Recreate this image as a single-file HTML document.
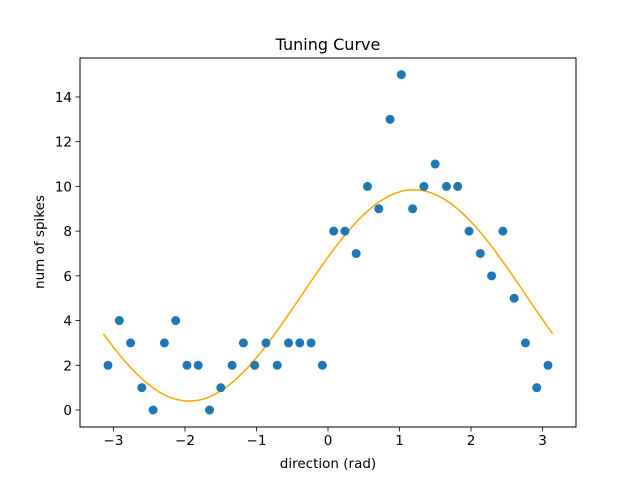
<!DOCTYPE html>
<html><head><meta charset="utf-8"><style>
html,body{margin:0;padding:0;background:#fff;}
svg{display:block;font-family:"DejaVu Sans","Liberation Sans",sans-serif;}
</style></head><body>
<svg id="s" width="640" height="480" viewBox="0 0 640 480" xmlns="http://www.w3.org/2000/svg">
<rect x="0" y="0" width="640" height="480" fill="#fff"/>
</svg>
<script>
var s=document.getElementById('s'),NS='http://www.w3.org/2000/svg';
function el(t,a,txt){var e=document.createElementNS(NS,t);for(var k in a)e.setAttribute(k,a[k]);if(txt!==undefined)e.textContent=txt;s.appendChild(e);return e;}
function X(v){return 328+71.5*v;}
function Y(v){return 410-22.36*v;}
var L=80,R=576,T=58,B=427;
var d='';for(var i=0;i<=200;i++){var x=-Math.PI+2*Math.PI*i/200;var y=5.125+4.725*Math.cos(x-1.2);d+=(i?'L':'M')+X(x).toFixed(2)+' '+Y(y).toFixed(2);}
el('path',{d:d,fill:'none',stroke:'#ffa500','stroke-width':1.5});
var vals=[2,4,3,1,0,3,4,2,2,0,1,2,3,2,3,2,3,3,3,2,8,8,7,10,9,13,15,9,10,11,10,10,8,7,6,8,5,3,1,2];
for(var i=0;i<40;i++){var px=108+i*(548-108)/39;el('circle',{cx:px,cy:Y(vals[i]),r:4.5,fill:'#1f77b4'});}
el('rect',{x:L,y:T,width:R-L,height:B-T,fill:'none',stroke:'#000','stroke-width':1});
for(var v=-3;v<=3;v++){var x=X(v);el('line',{x1:x,y1:B,x2:x,y2:B+4.5,stroke:'#000','stroke-width':0.8});
el('text',{x:x,y:B+18,'font-size':13.5,'text-anchor':'middle'},(v<0?'\u2212'+(-v):''+v));}
for(var v=0;v<=14;v+=2){var y=Y(v);el('line',{x1:L,y1:y,x2:L-4.5,y2:y,stroke:'#000','stroke-width':0.8});
el('text',{x:L-8,y:y+5,'font-size':13.5,'text-anchor':'end'},''+v);}
el('text',{x:328,y:468,'font-size':13.5,'text-anchor':'middle'},'direction (rad)');
el('text',{x:44,y:242,'font-size':13.5,'text-anchor':'middle',transform:'rotate(-90 44 242)'},'num of spikes');
el('text',{x:328,y:50,'font-size':16,'text-anchor':'middle'},'Tuning Curve');
</script>
</body></html>
